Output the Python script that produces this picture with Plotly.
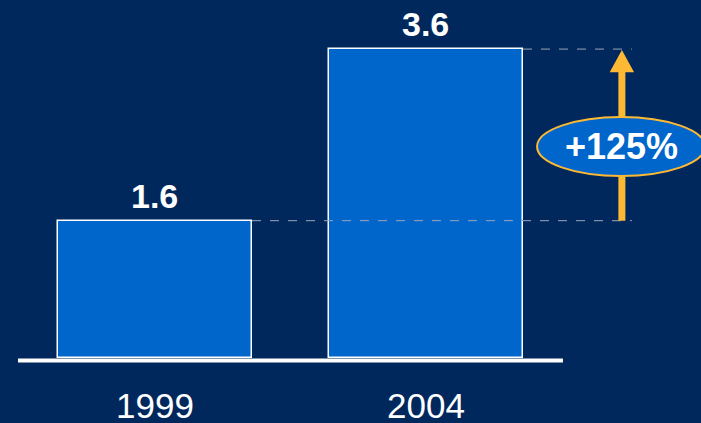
import plotly.graph_objects as go

categories = ["1999", "2004"]
values = [1.6, 3.6]
change_label = "+125%"

BG = "#00285C"
BAR = "#0066CC"
ORANGE = "#FDB933"
DASH = "#9AA5B8"
FONT = "Liberation Sans, Arial, sans-serif"

xpos = list(range(len(categories)))
bar_w = 0.716
half = bar_w / 2

fig = go.Figure()
fig.add_trace(go.Bar(
    x=xpos, y=values, width=bar_w,
    marker=dict(color=BAR, line=dict(color="white", width=1.5)),
    hoverinfo="skip",
))

shapes = []
# baseline
shapes.append(dict(type="line", xref="x", yref="y", x0=-0.5055, x1=1.5055, y0=-0.03, y1=-0.03,
                   line=dict(color="white", width=4)))
# dashed guide lines
arrow_x = 1.723
dash_end = 1.760
for i, v in enumerate(values):
    shapes.append(dict(type="line", xref="x", yref="y", x0=xpos[i] + half, x1=dash_end, y0=v, y1=v,
                       line=dict(color=DASH, width=1, dash="dash")))
# arrow shaft
head_h = 0.27
shapes.append(dict(type="line", xref="x", yref="y", x0=arrow_x, x1=arrow_x,
                   y0=values[0], y1=values[1] - head_h + 0.02,
                   line=dict(color=ORANGE, width=7)))
# arrow head
hw = 0.045
shapes.append(dict(type="path", xref="x", yref="y",
                   path=f"M {arrow_x - hw} {values[1] - head_h} L {arrow_x + hw} {values[1] - head_h} L {arrow_x} {values[1] - 0.01} Z",
                   fillcolor=ORANGE, line=dict(color=ORANGE, width=0)))
# ellipse
ey = 2.465
shapes.append(dict(type="circle", xref="x", yref="y", x0=1.410, x1=2.030, y0=ey - 0.344, y1=ey + 0.344,
                   fillcolor=BAR, line=dict(color=ORANGE, width=2)))

annotations = []
for i, v in enumerate(values):
    annotations.append(dict(x=xpos[i], y=v, xref="x", yref="y", text=f"<b>{v:.1f}</b>",
                            showarrow=False, yanchor="bottom", yshift=4,
                            font=dict(family=FONT, size=34, color="white")))
    annotations.append(dict(x=xpos[i], y=-0.55, xref="x", yref="y", text=categories[i],
                            showarrow=False, yanchor="middle",
                            font=dict(family=FONT, size=35, color="white")))
annotations.append(dict(x=arrow_x, y=ey, xref="x", yref="y", text=f"<b>{change_label}</b>",
                        showarrow=False, font=dict(family=FONT, size=36, color="white")))

fig.update_layout(
    width=701, height=423,
    margin=dict(l=0, r=0, t=0, b=0),
    paper_bgcolor=BG, plot_bgcolor=BG,
    showlegend=False,
    shapes=shapes, annotations=annotations,
    xaxis=dict(range=[-0.572, 2.015], visible=False, fixedrange=True),
    yaxis=dict(range=[-0.758, 4.172], visible=False, fixedrange=True),
    bargap=0,
)

fig.write_html("out.html", config={"displayModeBar": False},
               post_script="document.body.style.margin='0';document.body.style.overflow='hidden';document.body.style.background='%s';" % BG)
